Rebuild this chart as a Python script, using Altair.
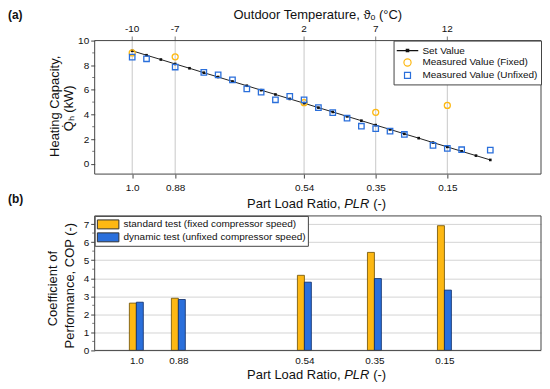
import altair as alt
import pandas as pd

# ---------------- data ----------------
temps = list(range(-10, 16))
set_capacity = [9.17, 8.81, 8.46, 8.10, 7.75, 7.39, 7.04, 6.68, 6.33, 5.97, 5.62, 5.26, 4.91,
                4.55, 4.20, 3.84, 3.49, 3.13, 2.78, 2.42, 2.07, 1.71, 1.36, 1.00, 0.65, 0.30]
unfixed_temps = [-10, -9, -7, -5, -4, -3, -2, -1, 0, 1, 2, 3, 4, 5, 6, 7, 8, 9, 11, 12, 13, 15]
unfixed_capacity = [8.66, 8.52, 7.85, 7.42, 7.21, 6.80, 6.08, 5.81, 5.19, 5.46, 5.19, 4.55,
                    4.15, 3.69, 3.04, 2.85, 2.64, 2.37, 1.48, 1.24, 1.13, 1.10]
fixed_temps = [-10, -7, 2, 7, 12]
fixed_capacity = [9.00, 8.68, 4.95, 4.17, 4.73]

key_temps = [-10, -7, 2, 7, 12]
temp_labels = ["-10", "-7", "2", "7", "12"]
plr_labels = ["1.0", "0.88", "0.54", "0.35", "0.15"]
cop_standard = [2.62, 2.89, 4.16, 5.43, 6.91]
cop_dynamic = [2.67, 2.82, 3.78, 3.98, 3.34]

top_major_ticks = [0, 2, 4, 6, 8, 10]
top_minor_ticks = [1, 3, 5, 7, 9]
bot_major_ticks = [0, 1, 2, 3, 4, 5, 6, 7]
bot_minor_ticks = [0.5, 1.5, 2.5, 3.5, 4.5, 5.5, 6.5]

top_series = ["Set Value", "Measured Value (Fixed)", "Measured Value (Unfixed)"]
bar_series = ["standard test (fixed compressor speed)", "dynamic test (unfixed compressor speed)"]

ORANGE = "#FDB813"
BLUE = "#2A6FDB"
FONT = "Liberation Sans"
TXT = "#111"
FRAME = "#444"

set_df = pd.DataFrame({"T": temps, "Q": set_capacity})
unfixed_df = pd.DataFrame({"T": unfixed_temps, "Q": unfixed_capacity})
fixed_df = pd.DataFrame({"T": fixed_temps, "Q": fixed_capacity})
key_df = pd.DataFrame({"T": key_temps, "lab": temp_labels})
legend_df = pd.DataFrame({"series": top_series})
bar_df = pd.concat([
    pd.DataFrame({"T": key_temps, "COP": cop_standard, "series": bar_series[0]}),
    pd.DataFrame({"T": key_temps, "COP": cop_dynamic, "series": bar_series[1]}),
])

label_expr = ""
for t, lab in zip(key_temps, plr_labels):
    label_expr += f"datum.value == {t} ? '{lab}' : "
label_expr += "''"

xs = alt.Scale(domain=[-12.62, 18.54], nice=False, zero=False)
ys_top = alt.Scale(domain=[-0.85, 10], nice=False, zero=False)
ys_bot = alt.Scale(domain=[0, 7.45], nice=False, zero=True)

W = 448
H_TOP = 134
H_BOT = 135


def text_at(txt, x, y, size=13, weight="normal", style="normal", angle=0, align="center"):
    return alt.Chart(pd.DataFrame({"t": [txt]})).mark_text(
        font=FONT, fontSize=size, fontWeight=weight, fontStyle=style, angle=angle,
        align=align, baseline="middle", color=TXT).encode(
        x=alt.value(x), y=alt.value(y), text="t:N")


def plr_title(y):
    # "Part Load Ratio, PLR (-)" with italic PLR
    return [
        text_at("Part Load Ratio,", 153, y, align="left"),
        text_at("PLR", 250.5, y, style="italic", align="left"),
        text_at("(-)", 279.5, y, align="left"),
    ]


def frame(h):
    return alt.Chart(pd.DataFrame({"d": [0]})).mark_rect(
        filled=False, stroke=FRAME, strokeWidth=1).encode(
        x=alt.value(0), x2=alt.value(W), y=alt.value(0), y2=alt.value(h))


def minor_ticks(vals, scale, axis):
    return alt.Chart(pd.DataFrame({"v": vals})).mark_tick(
        orient="horizontal", size=2.5, thickness=1, color=FRAME).encode(
        x=alt.value(-1.25), y=alt.Y("v:Q", scale=scale, axis=axis))


# ---------------- top panel ----------------
top_bx_axis = alt.Axis(orient="bottom", values=key_temps, labelExpr=label_expr, title=None,
                       grid=False, tickSize=4, labelPadding=4, labelFontSize=10, domain=False)
top_y_axis = alt.Axis(values=top_major_ticks, title=None, grid=False, tickSize=4,
                      labelPadding=2, labelFontSize=10, domain=False)

X_top = alt.X("T:Q", scale=xs, axis=top_bx_axis)

grid_rules = alt.Chart(key_df).mark_rule(color="#c8c8c8", strokeWidth=1).encode(x=X_top)
top_ticks = alt.Chart(key_df).mark_tick(orient="vertical", size=4, thickness=1,
                                        color=FRAME).encode(x=X_top, y=alt.value(-2))
top_tick_labels = alt.Chart(key_df).mark_text(font=FONT, fontSize=10, color=TXT,
                                              baseline="middle").encode(
    x=X_top, y=alt.value(-12), text="lab:N")

set_line = alt.Chart(set_df).mark_line(color="#222", strokeWidth=1).encode(
    x=X_top, y=alt.Y("Q:Q", scale=ys_top, axis=top_y_axis))
set_pts = alt.Chart(set_df).mark_square(color="#111", size=7, filled=True, opacity=1).encode(
    x=X_top, y=alt.Y("Q:Q", scale=ys_top, axis=top_y_axis))
fixed_pts = alt.Chart(fixed_df).mark_point(shape="circle", color=ORANGE, filled=False, size=36,
                                           strokeWidth=1.3, opacity=1).encode(
    x=X_top, y=alt.Y("Q:Q", scale=ys_top, axis=top_y_axis))
unfixed_pts = alt.Chart(unfixed_df).mark_square(color=BLUE, filled=False, size=30,
                                                strokeWidth=1.3, opacity=1).encode(
    x=X_top, y=alt.Y("Q:Q", scale=ys_top, axis=top_y_axis))

line_dot = "M-1.8,0H1.8M-0.2,-0.2H0.2V0.2H-0.2Z"
circ = "M-0.6,0A0.6,0.6 0 1,1 0.6,0A0.6,0.6 0 1,1 -0.6,0Z"
sq = "M-0.5,-0.5H0.5V0.5H-0.5Z"
top_legend = alt.Legend(title=None, orient="top-right", offset=0, symbolSize=144,
                        symbolStrokeWidth=1.2, symbolOpacity=1, labelFontSize=10,
                        strokeColor=FRAME, fillColor="white", padding=3, rowPadding=0,
                        labelOffset=8, symbolOffset=4, labelLimit=300)
legend_layer = alt.Chart(legend_df).mark_point(filled=False, opacity=0).encode(
    x=alt.value(0), y=alt.value(0),
    color=alt.Color("series:N", scale=alt.Scale(domain=top_series, range=["#111", ORANGE, BLUE]),
                    legend=top_legend),
    shape=alt.Shape("series:N", scale=alt.Scale(domain=top_series, range=[line_dot, circ, sq]),
                    legend=top_legend),
)

top_texts = [
    text_at("(a)", -87, -26, size=12, weight="bold", align="left"),
    text_at("(b)", -87, 159, size=12, weight="bold", align="left"),
    text_at("Outdoor Temperature, ϑₒ (°C)", 224, -26),
    text_at("Heating Capacity,", -40, 66, angle=270),
    text_at("Q̇ₕ (kW)", -26, 68, angle=270),
] + plr_title(164)

top = alt.layer(grid_rules, top_ticks, top_tick_labels, set_line, set_pts, fixed_pts,
                unfixed_pts, legend_layer, minor_ticks(top_minor_ticks, ys_top, top_y_axis),
                frame(H_TOP), *top_texts).properties(width=W, height=H_TOP)

# ---------------- bottom panel ----------------
bot_x_axis = alt.Axis(orient="bottom", values=key_temps, labelExpr=label_expr,
                      title=None, grid=False, ticks=False, labelPadding=5, labelFontSize=10,
                      domain=False)
bot_y_axis = alt.Axis(values=bot_major_ticks, title=None, grid=True, gridColor="#d4d4d4",
                      tickSize=4, labelPadding=2, labelFontSize=10, domain=False)
bar_legend = alt.Legend(title=None, orient="top-left", offset=0,
                        symbolType="M-1.8,-0.75H1.8V0.75H-1.8Z", symbolSize=144,
                        symbolStrokeColor="#333", symbolStrokeWidth=1, labelFontSize=10,
                        strokeColor=FRAME, fillColor="white", padding=2, rowPadding=0,
                        labelOffset=9, symbolOffset=5, labelLimit=300)
color_bar = alt.Color("series:N", scale=alt.Scale(domain=bar_series, range=[ORANGE, BLUE]),
                      legend=bar_legend)

bars_std = alt.Chart(bar_df).transform_filter(
    alt.datum.series == bar_series[0]).mark_bar(size=7, xOffset=-3.5, stroke="#6b4e00",
                                                strokeWidth=0.8).encode(
    x=alt.X("T:Q", scale=xs, axis=bot_x_axis),
    y=alt.Y("COP:Q", scale=ys_bot, axis=bot_y_axis),
    color=color_bar,
)
bars_dyn = alt.Chart(bar_df).transform_filter(
    alt.datum.series == bar_series[1]).mark_bar(size=7, xOffset=3.5, stroke="#0b2a66",
                                                strokeWidth=0.8).encode(
    x=alt.X("T:Q", scale=xs, axis=bot_x_axis),
    y=alt.Y("COP:Q", scale=ys_bot, axis=bot_y_axis),
    color=color_bar,
)

bot_texts = [
    text_at("Coefficient of", -42, 73, angle=270),
    text_at("Performance, COP (-)", -25, 70, angle=270),
] + plr_title(160)

bottom = alt.layer(bars_std, bars_dyn, minor_ticks(bot_minor_ticks, ys_bot, bot_y_axis),
                   frame(H_BOT), *bot_texts).properties(width=W, height=H_BOT)

chart = alt.vconcat(top, bottom, spacing=4).resolve_scale(
    color="independent", shape="independent"
).properties(padding=0).configure(font=FONT).configure_view(
    stroke=None
).configure_axis(
    labelColor=TXT, titleColor=TXT, tickColor=FRAME, domainColor=FRAME, labelFont=FONT,
    titleFont=FONT
).configure_legend(labelFont=FONT, labelColor=TXT)

chart.save("out.html", embed_options={"renderer": "svg", "actions": False})
